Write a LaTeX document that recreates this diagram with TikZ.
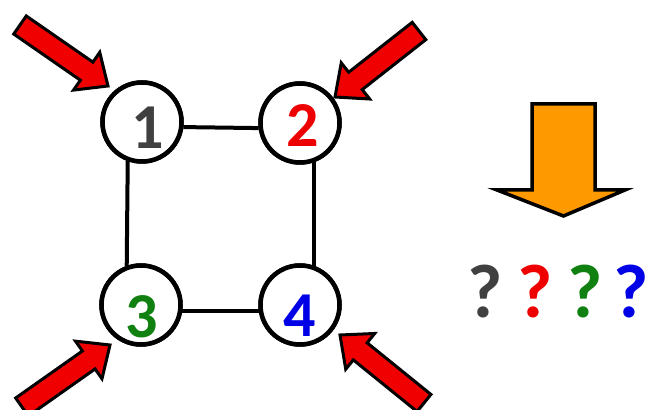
\documentclass[tikz,border=0pt]{standalone}
\usepackage{fontspec}
\setmainfont{Carlito}
\usetikzlibrary{calc}
\definecolor{arrred}{RGB}{240,0,0}
\definecolor{arrorange}{RGB}{255,153,0}
\definecolor{numgray}{RGB}{64,64,64}
\definecolor{numred}{RGB}{238,0,0}
\definecolor{numgreen}{RGB}{16,128,16}
\definecolor{numblue}{RGB}{0,0,230}
\newcommand\blockarr[3]{%
  \coordinate (#1h) at ($(#2)!26pt!(#1)$);
  \draw[#3] ($(#1)!11pt!90:(#2)$) -- ($(#1h)!11pt!90:(#2)$) -- ($(#1h)!23pt!90:(#2)$) -- (#2)
    -- ($(#1h)!23pt!-90:(#2)$) -- ($(#1h)!11pt!-90:(#2)$) -- ($(#1)!11pt!-90:(#2)$) -- cycle;}
\tikzset{
  vertex/.style={circle, draw=black, line width=4.5pt, fill=white, minimum size=79pt, inner sep=0pt},
  digit/.style={inner sep=0pt, font=\fontsize{64}{64}\selectfont\bfseries},
  qmark/.style={inner sep=0pt, font=\fontsize{76}{76}\selectfont\bfseries},
  edge/.style={line width=4pt, draw=black},
  redblock/.style={fill=arrred, draw=black, line width=3pt, line join=miter},
  orangeblock/.style={fill=arrorange, draw=black, line width=3.5pt, line join=miter}
}
\begin{document}
\begin{tikzpicture}[x=1pt,y=1pt]
\useasboundingbox (0,0) rectangle (652,409);
\fill[white] (0,0) rectangle (652,409);
% vertices
\node[vertex] (n1) at (142,287) {};
\node[vertex] (n2) at (300,286) {};
\node[vertex] (n3) at (141,104) {};
\node[vertex] (n4) at (300,104) {};
% edges
\draw[edge] (n1.-7) -- (n2.187);
\draw[edge] (n3.-8) -- (n4.188);
\draw[edge] (n1.250) -- (n3.110);
\draw[edge] (n2.290) -- (n4.70);
% redraw circles on top of edge ends
\node[vertex] at (n1.center) {};
\node[vertex] at (n2.center) {};
\node[vertex] at (n3.center) {};
\node[vertex] at (n4.center) {};
% digits
\node[digit, text=numgray] (d1) at (148,281) {1};
\node[digit, text=numred] (d2) at (303,283) {2};
\node[digit, text=numgreen] (d3) at (142,92) {3};
\node[digit, text=numblue] (d4) at (300,93) {4};
% red arrows
\coordinate (tlT) at (20,384); \coordinate (tlP) at (108,323);
\coordinate (trT) at (419,378); \coordinate (trP) at (335,312);
\coordinate (blT) at (22,2); \coordinate (blP) at (110,64);
\coordinate (brT) at (424,6); \coordinate (brP) at (340,74);
\blockarr{tlT}{tlP}{redblock}
\blockarr{trT}{trP}{redblock}
\blockarr{blT}{blP}{redblock}
\blockarr{brT}{brP}{redblock}
% orange arrow
\draw[orangeblock] (532,305) -- (595,305) -- (595,219) -- (625,219) -- (563.5,193) -- (497,219) -- (532,219) -- cycle;
% question marks
\node[qmark, text=numgray] (q1) at (485,117) {?};
\node[qmark, text=numred] (q2) at (535,117) {?};
\node[qmark, text=numgreen] (q3) at (585,117) {?};
\node[qmark, text=numblue] (q4) at (631,117) {?};
\end{tikzpicture}
\end{document}
